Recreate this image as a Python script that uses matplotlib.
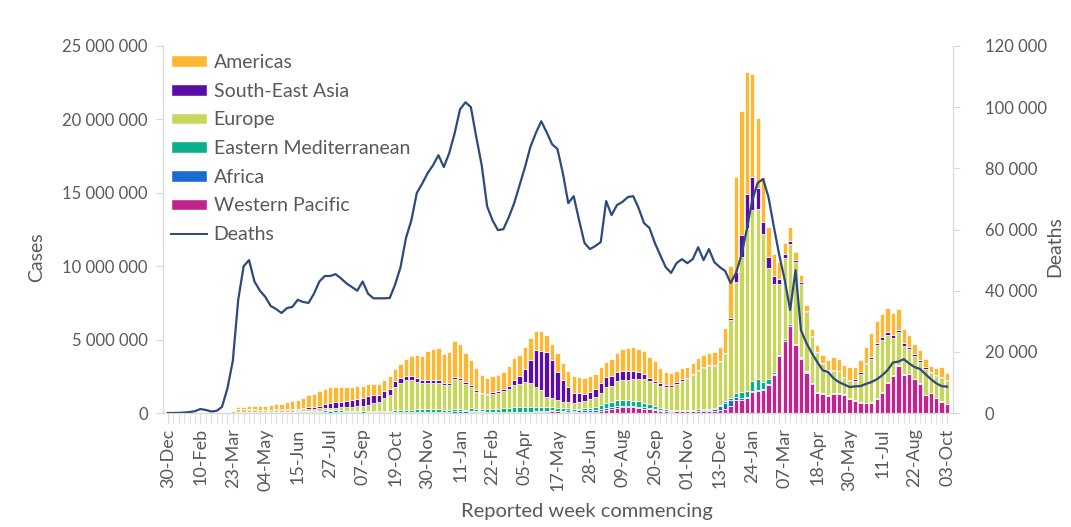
import matplotlib
matplotlib.use('Agg')
import matplotlib.pyplot as plt
import numpy as np
from matplotlib.patches import Patch
from matplotlib.lines import Line2D

plt.rcParams['font.family'] = ['Lato', 'DejaVu Sans']

# weekly data, 30-Dec-2019 .. 03-Oct-2022 (cases in millions)
weeks = np.arange(145)
tick_labels = ['30-Dec', '10-Feb', '23-Mar', '04-May', '15-Jun', '27-Jul', '07-Sep',
               '19-Oct', '30-Nov', '11-Jan', '22-Feb', '05-Apr', '17-May', '28-Jun',
               '09-Aug', '20-Sep', '01-Nov', '13-Dec', '24-Jan', '07-Mar', '18-Apr',
               '30-May', '11-Jul', '22-Aug', '03-Oct']

americas = [0, 0, 0, 0, 0, 0, 0, 0, 0.001, 0.002, 0.005, 0.015, 0.03,
            0.16, 0.18, 0.20, 0.21, 0.23, 0.28, 0.32, 0.40, 0.40,
            0.52, 0.53, 0.60, 0.68, 0.82, 0.90, 0.98, 1.05, 1.08, 1.05, 1.00, 0.95, 0.90, 0.90,
            0.85, 0.85, 0.80, 0.75, 0.80,
            0.85, 0.85, 1.00, 1.15, 1.40, 1.60, 1.65, 1.95, 2.10, 2.20, 2.00, 2.10, 2.45, 2.35, 2.00,
            1.68, 1.50, 1.22, 1.05, 1.10, 1.10, 1.20, 1.35, 1.45, 1.40, 1.45, 1.50, 1.32, 1.34,
            1.15, 1.10, 1.25, 1.18, 1.10, 1.14,
            1.10, 1.10, 1.07, 1.05, 1.10, 1.05, 1.12, 1.25, 1.48, 1.57, 1.62, 1.55, 1.60, 1.48,
            1.36, 1.00, 0.90, 0.85, 0.80, 0.75, 0.72, 0.73, 0.80, 0.80, 0.85, 0.90, 1.00, 1.70,
            3.5, 6.5, 8.5, 8.3, 7.0, 4.8, 3.1, 2.1, 1.5, 1.2, 0.75, 0.95, 0.55, 0.5, 0.4, 0.45,
            0.5, 0.55, 0.7, 0.88,
            0.80, 0.82, 0.86, 0.86, 0.85, 1.09, 1.64, 1.48, 1.60, 1.66, 1.48, 1.41, 0.95, 0.80,
            0.68, 0.68, 0.55, 0.39, 0.45, 0.64, 0.50]

se_asia = [0, 0, 0, 0, 0, 0, 0, 0, 0, 0.001, 0.001, 0.002, 0.002,
           0.005, 0.01, 0.01, 0.015, 0.02, 0.02, 0.03, 0.04, 0.05,
           0.06, 0.07, 0.08, 0.10, 0.12, 0.14, 0.19, 0.24, 0.30, 0.35, 0.39, 0.42, 0.46, 0.50,
           0.55, 0.60, 0.55, 0.48, 0.45,
           0.40, 0.37, 0.33, 0.30, 0.27, 0.25, 0.24, 0.22, 0.20, 0.18, 0.16, 0.14, 0.14, 0.13, 0.12,
           0.14, 0.11, 0.10, 0.09, 0.10, 0.11, 0.15, 0.20, 0.35, 0.55, 0.90, 1.55, 2.50, 2.70,
           3.05, 2.60, 1.95, 1.50, 1.05, 0.70,
           0.60, 0.52, 0.50, 0.50, 0.62, 0.68, 0.68, 0.65, 0.64, 0.60, 0.56, 0.47, 0.36, 0.20,
           0.20, 0.18, 0.15, 0.14, 0.12, 0.11, 0.10, 0.09, 0.09, 0.08, 0.07, 0.06, 0.06, 0.07,
           0.15, 0.65, 1.5, 2.3, 2.3, 1.4, 0.8, 0.7, 0.5, 0.32, 0.25, 0.2, 0.12, 0.1, 0.08, 0.1,
           0.08, 0.07, 0.06, 0.06,
           0.06, 0.07, 0.08, 0.09, 0.10, 0.10, 0.10, 0.12, 0.15, 0.17, 0.18, 0.18, 0.17, 0.15,
           0.13, 0.12, 0.10, 0.08, 0.07, 0.06, 0.05]

europe = [0, 0, 0, 0, 0, 0, 0, 0.001, 0.005, 0.015, 0.03, 0.06, 0.10,
          0.20, 0.20, 0.19, 0.18, 0.16, 0.15, 0.14, 0.13, 0.12,
          0.11, 0.11, 0.11, 0.12, 0.12, 0.13, 0.14, 0.15, 0.17, 0.18, 0.20, 0.22, 0.26, 0.31,
          0.33, 0.40, 0.50, 0.62, 0.87,
          1.08, 1.60, 1.82, 2.00, 2.00, 1.88, 1.77, 1.77, 1.80, 1.80, 1.65, 1.67, 2.05, 2.00, 1.75,
          1.48, 1.18, 1.01, 0.96, 1.02, 1.08, 1.16, 1.30, 1.55, 1.62, 1.74, 1.65, 1.33, 1.13,
          0.70, 0.57, 0.50, 0.42, 0.40, 0.40,
          0.45, 0.48, 0.60, 0.70, 0.85, 1.10, 1.10, 1.30, 1.35, 1.40, 1.45, 1.52, 1.60, 1.55,
          1.55, 1.50, 1.50, 1.55, 1.75, 1.97, 2.08, 2.35, 2.60, 2.80, 2.90, 2.85, 2.90, 3.20,
          5.3, 7.6, 9.2, 11.1, 11.6, 11.6, 10.1, 7.6, 6.0, 4.8, 5.55, 5.5, 5.6, 5.0, 4.05, 3.1,
          2.65, 1.95, 1.6, 1.5,
          1.45, 1.12, 1.15, 1.30, 1.90, 2.60, 2.98, 3.65, 3.60, 3.20, 2.55, 2.22, 1.93, 1.68,
          1.55, 1.49, 1.75, 1.37, 1.51, 1.62, 1.57]

east_med = [0, 0, 0, 0, 0, 0, 0, 0.001, 0.003, 0.005, 0.008, 0.012, 0.015,
            0.03, 0.03, 0.03, 0.03, 0.03, 0.04, 0.04, 0.05, 0.05,
            0.05, 0.06, 0.07, 0.08, 0.09, 0.09, 0.09, 0.09, 0.09, 0.09, 0.09, 0.09, 0.09, 0.10,
            0.10, 0.11, 0.11, 0.11, 0.11,
            0.12, 0.13, 0.15, 0.17, 0.17, 0.18, 0.18, 0.17, 0.16, 0.15, 0.13, 0.12, 0.12, 0.12, 0.12,
            0.14, 0.13, 0.14, 0.16, 0.20, 0.22, 0.23, 0.26, 0.29, 0.29, 0.30, 0.30, 0.32, 0.30,
            0.28, 0.25, 0.20, 0.17, 0.16, 0.13,
            0.12, 0.13, 0.15, 0.20, 0.25, 0.30, 0.35, 0.40, 0.37, 0.37, 0.37, 0.36, 0.30, 0.25,
            0.20, 0.15, 0.11, 0.09, 0.08, 0.08, 0.07, 0.07, 0.07, 0.07, 0.07, 0.07, 0.08, 0.10,
            0.15, 0.25, 0.35, 0.4, 0.72, 0.75, 0.45, 0.35, 0.15, 0.1, 0.1, 0.1, 0.08, 0.07, 0.05,
            0.04, 0.03, 0.03, 0.03, 0.03,
            0.03, 0.03, 0.03, 0.03, 0.03, 0.03, 0.04, 0.04, 0.04, 0.04, 0.05, 0.05, 0.05, 0.04,
            0.03, 0.02, 0.02, 0.01, 0.01, 0.01, 0.01]

africa = [0, 0, 0, 0, 0, 0, 0, 0, 0, 0, 0.0005, 0.001, 0.002,
          0.005, 0.005, 0.005, 0.01, 0.01, 0.01, 0.01, 0.015, 0.015,
          0.02, 0.02, 0.03, 0.03, 0.04, 0.05, 0.06, 0.08, 0.09, 0.08, 0.07, 0.05, 0.04, 0.03,
          0.02, 0.02, 0.02, 0.02, 0.02,
          0.02, 0.02, 0.03, 0.03, 0.03, 0.03, 0.03, 0.05, 0.06, 0.06, 0.06, 0.07, 0.09, 0.09, 0.08,
          0.10, 0.08, 0.07, 0.05, 0.05, 0.04, 0.04, 0.05, 0.05, 0.05, 0.05, 0.05, 0.05, 0.05,
          0.05, 0.06, 0.06, 0.07, 0.09, 0.10,
          0.13, 0.13, 0.14, 0.14, 0.18, 0.15, 0.13, 0.12, 0.12, 0.11, 0.10, 0.10, 0.09, 0.08,
          0.06, 0.05, 0.04, 0.03, 0.03, 0.03, 0.03, 0.03, 0.03, 0.04, 0.07, 0.15, 0.30, 0.45,
          0.45, 0.2, 0.15, 0.1, 0.08, 0.07, 0.05, 0.05, 0.05, 0.03, 0.03, 0.03, 0.03, 0.03, 0.03,
          0.04, 0.03, 0.03, 0.05, 0.06,
          0.05, 0.04, 0.03, 0.03, 0.03, 0.02, 0.02, 0.02, 0.02, 0.02, 0.02, 0.02, 0.01, 0.01,
          0.01, 0.01, 0.01, 0.01, 0.01, 0.01, 0.01]

west_pac = [0, 0.001, 0.005, 0.015, 0.025, 0.02, 0.015, 0.01, 0.005, 0.004, 0.005, 0.007, 0.01,
            0.01, 0.01, 0.01, 0.01, 0.005, 0.005, 0.005, 0.005, 0.005,
            0.01, 0.01, 0.01, 0.01, 0.01, 0.01, 0.02, 0.02, 0.02, 0.02, 0.02, 0.02, 0.02, 0.02,
            0.01, 0.02, 0.02, 0.02, 0.02,
            0.03, 0.03, 0.03, 0.03, 0.03, 0.03, 0.03, 0.04, 0.04, 0.04, 0.04, 0.03, 0.03, 0.03, 0.03,
            0.07, 0.05, 0.05, 0.05, 0.05, 0.04, 0.04, 0.04, 0.04, 0.04, 0.04, 0.04, 0.07, 0.07,
            0.09, 0.12, 0.11, 0.09, 0.09, 0.05,
            0.05, 0.05, 0.06, 0.07, 0.11, 0.22, 0.28, 0.35, 0.38, 0.40, 0.38, 0.34, 0.30, 0.28,
            0.20, 0.17, 0.12, 0.09, 0.11, 0.11, 0.11, 0.12, 0.14, 0.16, 0.15, 0.15, 0.18, 0.25,
            0.45, 0.9, 0.9, 1.0, 1.4, 1.48, 1.6, 1.9, 2.6, 3.85, 4.9, 5.9, 4.6, 3.7, 2.75, 1.97,
            1.35, 1.32, 1.16, 1.27,
            1.30, 1.20, 0.95, 0.85, 0.70, 0.66, 0.66, 0.93, 1.34, 2.07, 2.52, 3.20, 2.59, 2.64,
            2.30, 1.98, 1.23, 1.34, 1.00, 0.77, 0.61]

deaths = [0, 0, 50, 150, 300, 600, 1300, 1000, 500, 700, 2000, 8000, 17000,
          37000, 48000, 50000, 43000, 40000, 38000, 35000, 34000, 32700, 34300, 34700,
          37000, 36300, 36000, 39000, 43000, 44800, 44800, 45400, 44000, 42400, 41200,
          40000, 43000, 39000, 37500, 37500, 37500, 37600, 42000, 47700, 57200, 63000,
          71900, 75000, 78400, 81000, 84300, 80400, 85000, 91500, 99300, 101600, 100000,
          90200, 81000, 67600, 63000, 59800, 60100, 64000, 68600, 74500, 80400, 87000,
          91500, 95400, 91800, 87900, 86300, 78400, 68600, 70900, 63000, 55600, 53600,
          54600, 55900, 69300, 64700, 68000, 69000, 70600, 70900, 67000, 62100, 60500,
          55600, 51600, 47700, 45800, 49000, 50300, 49000, 50300, 54200, 50000, 53600,
          49300, 47700, 46400, 42500, 45800, 51600, 60100, 69600, 75200, 76500, 70600,
          60800, 51600, 43500, 33700, 46700, 27100, 22900, 19600, 16700, 14000, 13400,
          11400, 10100, 9300, 8500, 8700, 8800, 9500, 10100, 11000, 12300, 14000, 16500,
          16800, 17600, 16200, 15000, 14400, 12700, 11100, 9700, 8800, 8600]

regions = ['Western Pacific', 'Africa', 'Eastern Mediterranean', 'Europe',
           'South-East Asia', 'Americas']
series = [west_pac, africa, east_med, europe, se_asia, americas]
colors = ['#C3238F', '#1A6CD3', '#0BAF8A', '#C9D65E', '#5B0EA6', '#FFB732']

grey = '#595959'
spine = '#D9D9D9'

fig = plt.figure(figsize=(10.71, 5.27), dpi=100)
ax = fig.add_axes([163/1071, 1-413/527, (953-163)/1071, (413-46)/527])

bottom = np.zeros(len(weeks))
for vals, col in zip(series, colors):
    v = np.array(vals) * 1e6
    ax.bar(weeks, v, width=0.8, bottom=bottom, color=col, edgecolor='white', linewidth=0.5)
    bottom += v

ax.set_xlim(-0.9, 145.1)
ax.set_ylim(0, 25e6)
ax.set_yticks(np.arange(0, 25e6 + 1, 5e6))
ax.set_yticklabels(['{:,.0f}'.format(v).replace(',', ' ') for v in np.arange(0, 25e6 + 1, 5e6)])
ax.set_xticks(weeks[::6])
ax.set_xticklabels(tick_labels, rotation=90)
ax.set_xticks(weeks, minor=True)
ax.tick_params(axis='x', which='both', length=7, color=spine, labelsize=13, labelcolor=grey, pad=4)
ax.tick_params(axis='y', length=5, color=spine, labelsize=12, labelcolor=grey, pad=6)

ax.spines['top'].set_visible(False)
for s in ['left', 'right', 'bottom']:
    ax.spines[s].set_color(spine)

ax2 = ax.twinx()
ax2.plot(weeks, deaths, color='#2C4A7C', lw=1.6)
ax2.set_ylim(0, 120000)
ax2.set_yticks(np.arange(0, 120001, 20000))
ax2.set_yticklabels(['{:,.0f}'.format(v).replace(',', ' ') for v in np.arange(0, 120001, 20000)])
ax2.tick_params(axis='y', length=5, color=spine, labelsize=12, labelcolor=grey, pad=18)
ax2.spines['top'].set_visible(False)
for s in ['left', 'right', 'bottom']:
    ax2.spines[s].set_color(spine)

handles = [Patch(facecolor=c, edgecolor='white') for c in colors[::-1]]
handles.append(Line2D([0], [0], color='#2C4A7C', lw=1.4))
labels = regions[::-1] + ['Deaths']
leg = ax2.legend(handles, labels, loc='upper left', bbox_to_anchor=(0.0, 0.999),
                 frameon=False, fontsize=14, handlelength=1.85, handleheight=0.55,
                 labelspacing=0.6, handletextpad=0.35, borderaxespad=0.0, borderpad=0.4)
for t in leg.get_texts():
    t.set_color(grey)

fig.text(37/1071, 1-257/527, 'Cases', rotation=90, ha='center', va='center', fontsize=14, color=grey)
fig.text(1055/1071, 1-247/527, 'Deaths', rotation=90, ha='center', va='center', fontsize=14, color=grey)
fig.text(587/1071, 1-511/527, 'Reported week commencing', ha='center', va='center', fontsize=14.5, color=grey)

fig.savefig('out.png', dpi=100)
